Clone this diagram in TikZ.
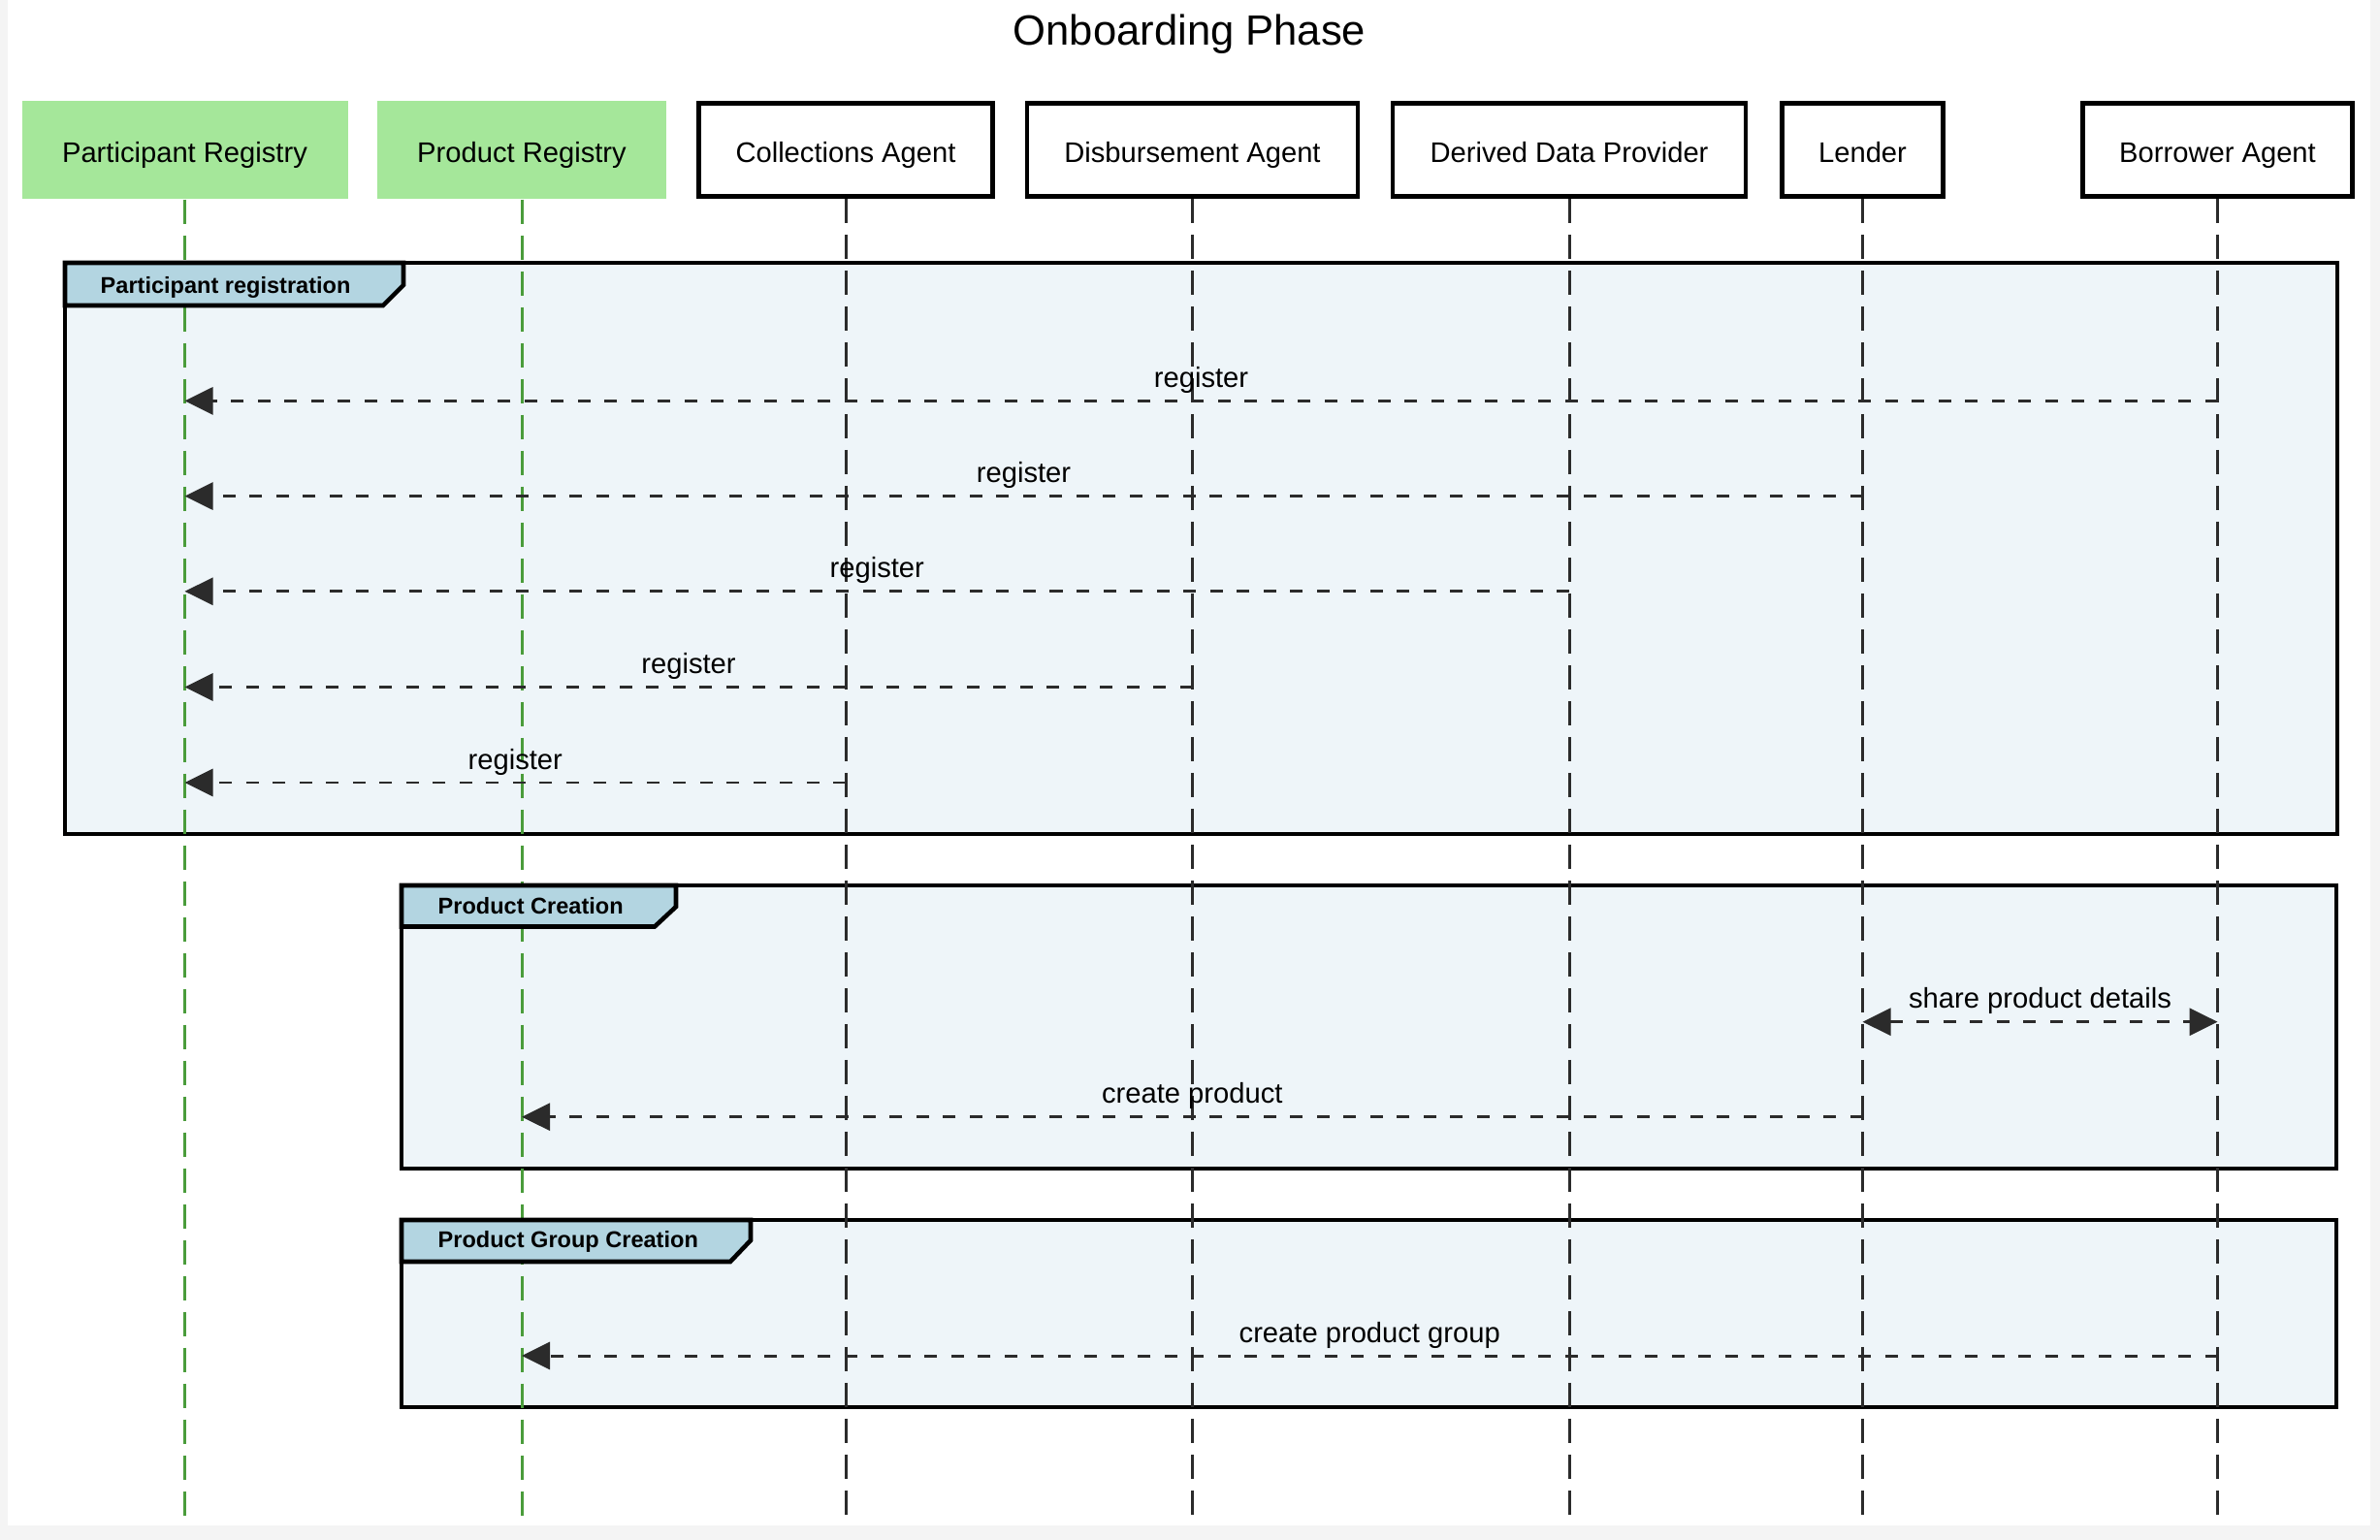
\documentclass[tikz,border=0pt]{standalone}
\usepackage{fontspec}
\setmainfont{Liberation Sans}
\usetikzlibrary{arrows.meta}
\definecolor{regfill}{HTML}{A5E79A}
\definecolor{reggreen}{HTML}{4A9C3B}
\definecolor{grpfill}{HTML}{EEF5F9}
\definecolor{tabfill}{HTML}{B3D5E1}
\definecolor{linegray}{HTML}{2B2B2B}
\definecolor{pagegray}{HTML}{F4F4F4}
\begin{document}
\begin{tikzpicture}[
        actor/.style = {draw, line width = 1.4pt, fill = white, minimum height = 0.96cm,
            inner sep = 0pt, text height = 0.72em, text depth = 0pt,
            font = \fontsize{8.3}{10}\selectfont},
        registry/.style = {fill = regfill, minimum height = 1.01cm,
            inner sep = 0pt, text height = 0.72em, text depth = 0pt,
            font = \fontsize{8.3}{10}\selectfont},
        life/.style = {linegray, line width = 0.85pt, dash pattern = on 0.25cm off 0.12cm},
        reglife/.style = {life, reggreen},
        msg/.style = {linegray, line width = 0.85pt, dash pattern = on 0.13cm off 0.145cm,
            -{Triangle[length = 0.29cm, width = 0.28cm]}},
        lbl/.style = {anchor = base, inner sep = 0pt, yshift = 0.14cm, text = black,
            font = \fontsize{8.3}{10}\selectfont},
        grpbox/.style = {draw, line width = 1.3pt, fill = grpfill},
        grptab/.style = {draw, line width = 1.3pt, fill = tabfill, line join = miter},
        tabtext/.style = {anchor = base west, inner sep = 0pt,
            font = \bfseries\fontsize{6.7}{8}\selectfont}
    ]
    %画布与背景
    \useasboundingbox (0,0) rectangle (24.54,-15.88);
    \fill[pagegray] (0,0) rectangle (24.54,-15.88);
    \fill[white] (0.08,0) rectangle (24.44,-15.73);
    \coordinate (bottom) at (0,-15.73);

    %标题
    \node[anchor = base, font = \fontsize{12.4}{15}\selectfont] (title) at (12.265,-0.47) {Onboarding Phase};

    %画出三个分组框
    \draw[grpbox] (0.67,-2.71) rectangle (24.10,-8.60);
    \draw[grpbox] (4.14,-9.13) rectangle (24.09,-12.05);
    \draw[grpbox] (4.14,-12.58) rectangle (24.09,-14.51);

    %画出参与者
    \node[registry, minimum width = 3.36cm] (preg) at (1.905,-1.545) {Participant Registry};
    \node[registry, minimum width = 2.98cm] (prod) at (5.38,-1.545) {Product Registry};
    \node[actor, minimum width = 3.035cm] (coll) at (8.72,-1.545) {Collections Agent};
    \node[actor, minimum width = 3.41cm] (disb) at (12.295,-1.545) {Disbursement Agent};
    \node[actor, minimum width = 3.64cm] (ddp) at (16.18,-1.545) {Derived Data Provider};
    \node[actor, minimum width = 1.66cm] (lend) at (19.205,-1.545) {Lender};
    \node[actor, minimum width = 2.78cm] (borr) at (22.865,-1.545) {Borrower Agent};

    %画出生命线
    \draw[reglife] (preg.south) -- (preg |- bottom);
    \draw[reglife] (prod.south) -- (prod |- bottom);
    \draw[life] (coll.south) -- (coll |- bottom);
    \draw[life] (disb.south) -- (disb |- bottom);
    \draw[life] (ddp.south) -- (ddp |- bottom);
    \draw[life] (lend.south) -- (lend |- bottom);
    \draw[life] (borr.south) -- (borr |- bottom);

    %分组框的标签
    \draw[grptab] (0.67,-2.71) -- (4.16,-2.71) -- (4.16,-2.94) -- (3.95,-3.15) -- (0.67,-3.15) -- cycle;
    \node[tabtext] (t1) at (1.03,-3.027) {Participant registration};
    \draw[grptab] (4.14,-9.13) -- (6.97,-9.13) -- (6.97,-9.35) -- (6.75,-9.555) -- (4.14,-9.555) -- cycle;
    \node[tabtext] (t2) at (4.51,-9.427) {Product Creation};
    \draw[grptab] (4.14,-12.58) -- (7.74,-12.58) -- (7.74,-12.79) -- (7.53,-13.01) -- (4.14,-13.01) -- cycle;
    \node[tabtext] (t3) at (4.51,-12.867) {Product Group Creation};

    %消息所在的行
    \coordinate (r1) at (0,-4.134);
    \coordinate (r2) at (0,-5.116);
    \coordinate (r3) at (0,-6.098);
    \coordinate (r4) at (0,-7.085);
    \coordinate (r5) at (0,-8.07);
    \coordinate (r6) at (0,-10.537);
    \coordinate (r7) at (0,-11.517);
    \coordinate (r8) at (0,-13.98);

    %画出消息
    \draw[msg] (borr |- r1) -- node[lbl]{register} (preg |- r1);
    \draw[msg] (lend |- r2) -- node[lbl]{register} (preg |- r2);
    \draw[msg] (ddp |- r3) -- node[lbl]{register} (preg |- r3);
    \draw[msg] (disb |- r4) -- node[lbl]{register} (preg |- r4);
    \draw[msg] (coll |- r5) -- node[lbl]{register} (preg |- r5);
    \draw[msg, {Triangle[length = 0.29cm, width = 0.28cm]}-{Triangle[length = 0.29cm, width = 0.28cm]}] (lend |- r6) -- node[lbl]{share product details} (borr |- r6);
    \draw[msg] (lend |- r7) -- node[lbl]{create product} (prod |- r7);
    \draw[msg] (borr |- r8) -- node[lbl]{create product group} (prod |- r8);
\end{tikzpicture}
\end{document}
